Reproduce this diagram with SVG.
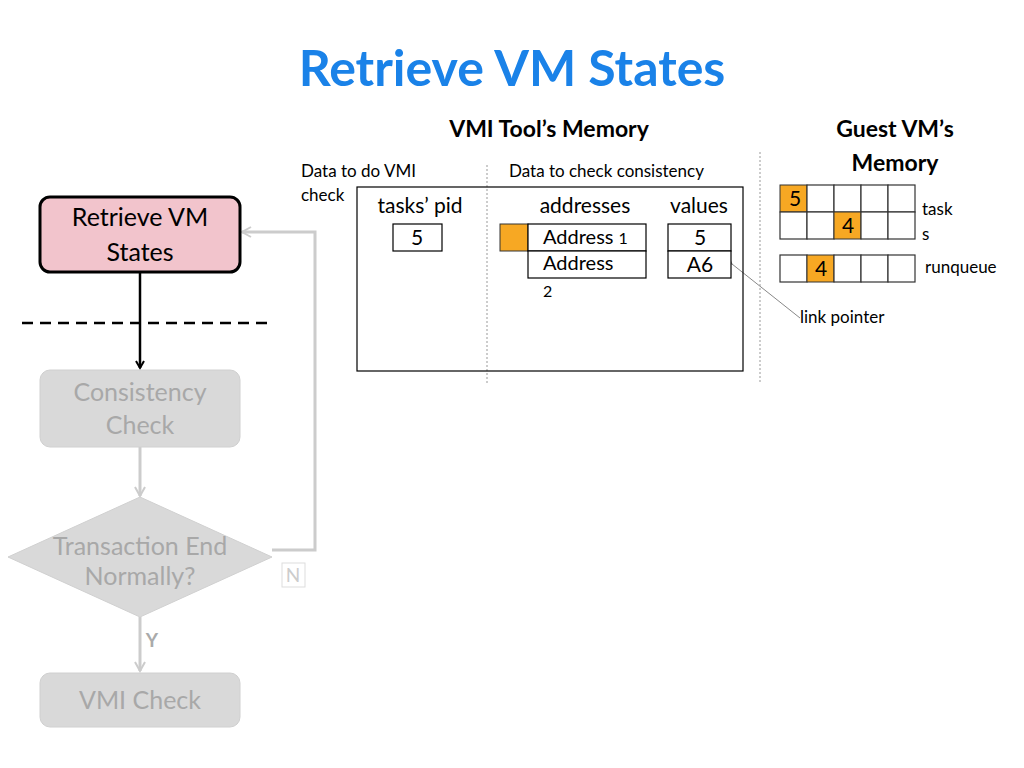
<svg xmlns="http://www.w3.org/2000/svg" width="1024" height="768" viewBox="0 0 1024 768">
<style>
text{font-family:Lato,"Open Sans",sans-serif}
.b{fill:#fff;stroke:#000;stroke-width:1.2}
.o{fill:#f7a823;stroke:#333;stroke-width:1}
.c{fill:#fff;stroke:#333;stroke-width:1.2}
.g{fill:#d9d9d9;stroke:#d0d0d0}
.gt{fill:#a8a8a8;font-size:25px;text-anchor:middle}
.s{font-size:17px;fill:#000}
.m{font-size:21px;fill:#000;text-anchor:middle}
.dv{stroke:#999;stroke-width:1;stroke-dasharray:2,2}
</style>
<defs>
<marker id="ak" markerWidth="10" markerHeight="10" refX="8" refY="5" orient="auto" markerUnits="userSpaceOnUse"><path d="M1,1 L8,5 L1,9" fill="none" stroke="#000" stroke-width="2"/></marker>
<marker id="ag" markerWidth="12" markerHeight="12" refX="10" refY="6" orient="auto" markerUnits="userSpaceOnUse"><path d="M1,1 L10,6 L1,11" fill="none" stroke="#ccc" stroke-width="2"/></marker>
<marker id="al" markerWidth="10" markerHeight="10" refX="1" refY="5" orient="auto" markerUnits="userSpaceOnUse"><path d="M9,1 L1,5 L9,9" fill="none" stroke="#888" stroke-width="1"/></marker>
</defs>
<rect width="1024" height="768" fill="#fff"/>
<text x="512" y="86" text-anchor="middle" font-size="50" font-weight="bold" fill="#1a82e8">Retrieve VM States</text>
<text x="549" y="137" text-anchor="middle" font-size="23" font-weight="bold">VMI Tool’s Memory</text>
<text x="895" y="137" text-anchor="middle" font-size="23" font-weight="bold">Guest VM’s</text>
<text x="895" y="171" text-anchor="middle" font-size="23" font-weight="bold">Memory</text>

<g id="connectors">
<line x1="140" y1="272" x2="140" y2="368" stroke="#000" stroke-width="2.5" marker-end="url(#ak)"/>
<line x1="22" y1="323" x2="272" y2="323" stroke="#000" stroke-width="2.5" stroke-dasharray="11,7"/>
<line x1="140" y1="447" x2="140" y2="496" stroke="#ccc" stroke-width="3" marker-end="url(#ag)"/>
<polyline points="272,550 315,550 315,232 242,232" fill="none" stroke="#ccc" stroke-width="3" marker-end="url(#ag)"/>
<line x1="140" y1="617" x2="140" y2="671" stroke="#ccc" stroke-width="3" marker-end="url(#ag)"/>
<line x1="800" y1="318" x2="732" y2="264" stroke="#888" stroke-width="1" marker-end="url(#al)"/>
</g>

<g id="retrieve"><rect x="40" y="197" width="200" height="75" rx="10" fill="#f2c4cc" stroke="#000" stroke-width="3"/>
<text x="140" y="226" text-anchor="middle" font-size="25">Retrieve VM</text><text x="140" y="261" text-anchor="middle" font-size="25">States</text></g>
<g id="consistency"><rect class="g" x="40" y="370" width="200" height="77" rx="10"/>
<text class="gt" x="140" y="401">Consistency</text><text class="gt" x="140" y="434">Check</text></g>
<g id="decision"><polygon class="g" points="140,497 272,557 140,617 8,557"/>
<text class="gt" x="140" y="555" font-size="22">Transaction End</text><text class="gt" x="140" y="585" font-size="22">Normally?</text></g>
<g id="n"><rect x="282" y="563" width="23" height="24" fill="#fff" stroke="#ddd"/><text x="293" y="582" text-anchor="middle" font-size="19" fill="#ccc">N</text></g>
<text x="152" y="647" text-anchor="middle" font-size="19" font-weight="bold" fill="#aaa">Y</text>
<g id="vmicheck"><rect class="g" x="40" y="673" width="200" height="54" rx="10"/><text class="gt" x="140" y="709">VMI Check</text></g>

<g id="memory">
<line class="dv" x1="487" y1="165" x2="487" y2="383"/>
<line class="dv" x1="760" y1="152" x2="760" y2="383"/>
<rect x="357" y="187" width="386" height="184" fill="none" stroke="#000" stroke-width="1.2"/>
<text class="s" x="301" y="177">Data to do VMI</text>
<text class="s" x="301" y="201">check</text>
<text class="s" x="509" y="177">Data to check consistency</text>
<text class="m" x="420" y="213">tasks’ pid</text>
<text class="m" x="585" y="213">addresses</text>
<text class="m" x="699" y="213">values</text>
<rect class="b" x="393" y="224" width="49" height="27"/><text class="m" x="417" y="245">5</text>
<rect class="o" x="500" y="224" width="28" height="27"/>
<rect class="b" x="528" y="224" width="118" height="27"/><text x="543" y="244" font-size="20">Address <tspan font-size="16">1</tspan></text>
<rect class="b" x="528" y="251" width="118" height="27"/><text x="543" y="270" font-size="20">Address</text>
<text x="543" y="297" font-size="16">2</text>
<rect class="b" x="668" y="224" width="63" height="27"/><text class="m" x="700" y="245">5</text>
<rect class="b" x="668" y="251" width="63" height="27"/><text class="m" x="700" y="272">A6</text>
</g>

<g id="guest">
<rect class="o" x="780" y="185" width="27" height="27"/><rect class="c" x="807" y="185" width="27" height="27"/><rect class="c" x="834" y="185" width="27" height="27"/><rect class="c" x="861" y="185" width="27" height="27"/><rect class="c" x="888" y="185" width="27" height="27"/>
<rect class="c" x="780" y="212" width="27" height="27"/><rect class="c" x="807" y="212" width="27" height="27"/><rect class="o" x="834" y="212" width="27" height="27"/><rect class="c" x="861" y="212" width="27" height="27"/><rect class="c" x="888" y="212" width="27" height="27"/>
<text class="m" x="795" y="206">5</text><text class="m" x="848" y="233">4</text>
<rect class="c" x="780" y="255" width="27" height="27"/><rect class="o" x="807" y="255" width="27" height="27"/><rect class="c" x="834" y="255" width="27" height="27"/><rect class="c" x="861" y="255" width="27" height="27"/><rect class="c" x="888" y="255" width="27" height="27"/>
<text class="m" x="821" y="276">4</text>
<text class="s" x="922" y="215">task</text><text class="s" x="922" y="240">s</text>
<text class="s" x="925" y="273">runqueue</text>
<text class="s" x="800" y="323">link pointer</text>
</g>
</svg>
